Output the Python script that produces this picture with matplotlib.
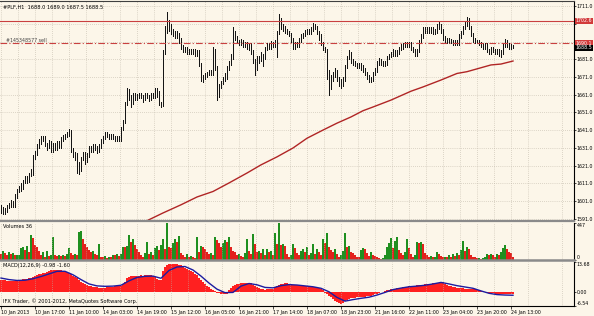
import matplotlib
matplotlib.use('Agg')
import matplotlib.pyplot as plt
import matplotlib.transforms as mtransforms

# hourly bars of #PLF, 10 Jan 2013 .. 24 Jan 2013
highs = [
    1599, 1598, 1597, 1599, 1600, 1601.5, 1601, 1605, 1608, 1609.5,
    1611, 1613, 1615.5, 1615, 1617, 1619, 1627, 1629.5, 1633, 1636,
    1637.5, 1638, 1638, 1634, 1635.5, 1635, 1634, 1634, 1635, 1635,
    1637, 1638.5, 1639, 1640, 1641.5, 1641, 1631, 1629, 1628, 1623,
    1626, 1629, 1629, 1628, 1632, 1632, 1633, 1633, 1632, 1633,
    1636, 1638, 1640, 1640, 1639, 1639, 1639, 1638, 1638, 1638,
    1643, 1647, 1657, 1665, 1664, 1661, 1662, 1662, 1661.5, 1662,
    1662, 1661, 1662, 1662, 1661, 1662, 1662, 1665, 1665, 1663,
    1657, 1686, 1700, 1707.5, 1703, 1701, 1698, 1697, 1697, 1696,
    1693, 1689, 1688, 1688, 1687, 1687, 1687, 1687, 1686, 1686,
    1679, 1672, 1673, 1674, 1675, 1675, 1688, 1687, 1677, 1667,
    1669, 1671, 1673, 1677, 1680, 1684, 1699, 1697, 1694, 1692,
    1692.5, 1692, 1691, 1691, 1690, 1690, 1686, 1681, 1683, 1683,
    1685, 1684, 1688, 1690, 1690, 1691.5, 1691, 1692, 1697, 1706.5,
    1704, 1701, 1700, 1698, 1697, 1696, 1693, 1691, 1691, 1693,
    1695, 1696, 1697.5, 1698, 1698, 1699, 1701.5, 1701, 1700, 1697,
    1695, 1691, 1688, 1687, 1675, 1672, 1674, 1676, 1675, 1671,
    1670, 1671, 1678, 1683, 1686, 1685, 1681, 1680, 1679, 1679,
    1679, 1678, 1676, 1674, 1672, 1671, 1674, 1676, 1680, 1681.5,
    1681, 1680, 1680, 1683, 1684, 1685, 1686.5, 1686, 1686, 1688,
    1689.5, 1690, 1691, 1691, 1691, 1691, 1688, 1687, 1687, 1692,
    1695, 1699, 1699, 1699, 1699, 1699, 1699, 1698, 1701, 1702,
    1701, 1698, 1694, 1693, 1693, 1692.5, 1692, 1692, 1692, 1695,
    1697, 1700, 1702, 1705, 1704, 1700, 1696, 1693, 1692, 1692,
    1691, 1690, 1690, 1690, 1687, 1688, 1688, 1687, 1687, 1687,
    1686, 1690, 1692.5, 1692, 1690, 1689.5, 1689.0]

lows = [
    1594.5, 1594, 1594, 1595, 1597, 1598, 1598, 1598, 1603, 1606,
    1607, 1608, 1611, 1611, 1612, 1615, 1616, 1625, 1627, 1631,
    1633, 1635, 1632, 1630, 1631, 1629, 1629, 1630, 1630, 1631,
    1631, 1635, 1636, 1637, 1638, 1629, 1626, 1624, 1617, 1616.5,
    1618, 1624, 1622, 1623, 1626, 1629, 1629, 1630, 1628, 1629,
    1631, 1634, 1636, 1637, 1636, 1636, 1636, 1635, 1635, 1635,
    1635, 1641, 1645, 1655, 1658, 1654, 1656, 1658, 1658, 1659,
    1659, 1657, 1658, 1659, 1657.5, 1658, 1659, 1659, 1660, 1655,
    1654, 1654.5, 1684, 1696, 1697, 1695, 1694, 1693, 1693, 1690,
    1687, 1685, 1685, 1684, 1684, 1684, 1684, 1683, 1683, 1677,
    1669, 1668, 1670, 1671, 1672, 1672, 1672, 1675, 1658, 1660,
    1665, 1667, 1669, 1670, 1675, 1678, 1681, 1692, 1690, 1689,
    1689, 1688, 1688, 1687, 1686, 1684, 1679, 1672, 1675, 1679,
    1680, 1677, 1681, 1686, 1687, 1687, 1688, 1688, 1682, 1695,
    1698, 1697, 1696, 1695, 1694, 1691, 1687, 1687, 1688, 1688,
    1691, 1693, 1694, 1695, 1695, 1695, 1697, 1698, 1695, 1692,
    1689, 1686, 1685, 1670, 1661, 1664, 1669, 1671, 1669, 1666,
    1665, 1666, 1669, 1676, 1681, 1679, 1678, 1677, 1676, 1676,
    1675, 1674, 1672, 1670, 1668, 1668, 1669, 1672, 1674, 1678,
    1678, 1677, 1677, 1678, 1681, 1682, 1683, 1683, 1683, 1684,
    1686, 1687, 1688, 1688, 1688, 1686, 1685, 1683, 1683, 1685,
    1690, 1693, 1696, 1696, 1696, 1696, 1695, 1695, 1696, 1698,
    1696, 1692, 1690, 1690, 1690, 1690, 1689, 1689, 1689, 1689,
    1693, 1695, 1698, 1700, 1698, 1694, 1691, 1690, 1690, 1689,
    1688, 1687, 1687, 1685, 1684, 1684, 1685, 1684, 1684, 1683,
    1682.5, 1684, 1688, 1688, 1687, 1687, 1687.5]

volumes = [
    70, 110, 80, 60, 90, 75, 85, 55, 60, 65,
    140, 150, 120, 170, 100, 300, 260, 180, 150, 110,
    60, 100, 40, 110, 45, 60, 280, 60, 45, 55,
    50, 60, 45, 70, 140, 80, 60, 70, 55, 330,
    340, 250, 190, 150, 120, 90, 110, 70, 60, 190,
    40, 30, 50, 25, 40, 35, 60, 55, 70, 50,
    70, 160, 150, 170, 300, 220, 250, 180, 130, 100,
    60, 40, 80, 210, 70, 90, 60, 140, 170, 120,
    180, 250, 130, 447, 160, 140, 200, 250, 210, 290,
    80, 60, 40, 70, 30, 45, 30, 25, 280, 90,
    170, 150, 130, 100, 70, 80, 60, 280, 240, 200,
    160, 200, 240, 220, 280, 160, 110, 90, 60, 70,
    50, 40, 80, 250, 110, 70, 310, 190, 90, 110,
    80, 130, 60, 130, 90, 110, 60, 320, 190, 440,
    180, 190, 170, 70, 40, 60, 190, 140, 80, 60,
    110, 130, 90, 150, 60, 80, 190, 70, 130, 90,
    60, 250, 200, 320, 150, 120, 90, 130, 70, 40,
    60, 110, 320, 150, 170, 100, 80, 60, 40, 30,
    120, 140, 130, 80, 50, 90, 60, 50, 30, 20,
    15, 25, 60, 150, 200, 260, 140, 230, 280, 120,
    80, 60, 90, 250, 140, 70, 40, 60, 210, 200,
    210, 190, 80, 60, 40, 50, 30, 40, 90, 70,
    50, 30, 40, 30, 60, 40, 70, 50, 80, 60,
    120, 230, 110, 160, 130, 60, 40, 30, 20, 25,
    15, 20, 40, 70, 60, 70, 60, 40, 70, 60,
    90, 140, 180, 130, 100, 80, 36]

macd_main = [
    5.6, 5.4, 5.2, 5.0, 4.9, 4.9, 5.0, 5.1, 5.2, 5.4,
    5.6, 5.7, 5.8, 5.9, 6.1, 6.3, 6.8, 7.4, 7.8, 8.0,
    8.2, 8.4, 8.6, 9.0, 9.4, 9.8, 10.0, 10.1, 10.2, 10.0,
    9.8, 9.6, 9.4, 9.2, 8.8, 8.1, 7.4, 6.8, 6.1, 5.4,
    4.7, 4.0, 3.4, 3.1, 2.8, 2.6, 2.4, 2.2, 2.0, 1.9,
    1.8, 1.8, 1.9, 2.0, 2.2, 2.3, 2.4, 2.5, 2.6, 2.7,
    2.8, 3.4, 4.5, 6.3, 7.0, 7.3, 7.2, 7.3, 7.4, 7.4,
    7.5, 7.4, 7.5, 7.6, 7.5, 7.5, 7.3, 7.0, 6.0, 5.6,
    5.5, 9.5, 11.5, 12.4, 12.6, 12.8, 12.8, 12.7, 12.6, 12.4,
    12.2, 11.8, 11.0, 10.5, 10.0, 9.5, 9.0, 8.3, 7.5, 6.5,
    5.5, 4.5, 3.5, 2.8, 2.0, 1.4, 0.8, 0.5, -0.4, -0.6,
    -0.9, -1.0, -1.2, -1.0, 0.8, 1.8, 2.5, 3.0, 3.4, 3.7,
    4.0, 4.1, 4.1, 4.1, 4.0, 3.8, 3.2, 2.6, 2.2, 1.8,
    1.5, 1.2, 1.0, 1.1, 1.3, 1.4, 1.5, 2.0, 2.8, 3.3,
    3.6, 3.7, 3.8, 3.8, 3.7, 3.5, 3.3, 3.1, 3.0, 2.9,
    2.8, 2.8, 2.7, 2.6, 2.5, 2.4, 2.3, 2.2, 2.0, 1.8,
    1.5, 1.0, -0.5, -1.2, -1.8, -2.6, -3.5, -4.2, -4.8, -5.2,
    -5.6, -5.2, -4.2, -3.7, -3.2, -3.0, -2.8, -2.7, -2.6, -2.5,
    -2.4, -2.3, -2.2, -2.1, -2.0, -1.8, -1.5, -1.2, -0.8, -0.5,
    -0.2, 0.0, 0.3, 0.6, 0.9, 1.1, 1.4, 1.5, 1.7, 1.8,
    1.9, 2.0, 2.2, 2.3, 2.5, 2.6, 2.7, 2.8, 2.9, 3.1,
    3.2, 3.3, 3.4, 3.5, 3.6, 3.7, 3.8, 3.9, 4.0, 4.2,
    4.5, 4.3, 3.6, 3.0, 2.7, 2.5, 2.3, 2.1, 1.8, 1.7,
    1.6, 1.6, 1.5, 1.4, 1.3, 1.3, 1.2, 1.1, 1.0, 0.7,
    0.3, 0.0, -0.2, -0.4, -0.6, -0.7, -0.7, -0.8, -0.8, -0.8,
    -0.9, -0.9, -0.9, -0.9, -1.0, -1.0, -0.98]

# signal line, read every 4th bar
signal_bar = list(range(0, 257, 4))
signal_val = [
    6.3, 5.6, 5.2, 5.3, 6.0, 7.0, 8.2, 9.4, 9.4, 7.8,
    5.6, 3.6, 2.7, 2.5, 2.6, 3.0, 5.0, 6.6, 7.1, 7.2,
    6.2, 9.8, 11.4, 11.6, 10.0, 7.2, 4.0, 1.2, -0.4, -0.3,
    2.6, 3.8, 3.2, 2.0, 1.8, 2.8, 3.3, 3.1, 2.7, 2.3,
    1.6, 0.0, -2.6, -4.3, -3.6, -3.0, -2.5, -1.5, -0.3, 1.0,
    1.7, 2.3, 2.6, 3.0, 3.6, 4.3, 3.6, 2.8, 2.2, 1.6,
    0.4, -0.7, -1.3, -1.5, -1.6]

# moving average (red line in price window)
ma_bar = [70, 72, 81, 90, 98, 106, 114, 123, 130, 138, 146, 153, 161,
          168, 175, 181, 186, 195, 200, 205, 211, 220, 228, 233, 245, 250, 256]
ma_val = [1588.5, 1589.5, 1594.4, 1599.0, 1603.4, 1606.5, 1611.3, 1616.9,
          1621.5, 1626.0, 1631.0, 1636.5, 1641.1, 1645.0, 1648.5, 1652.0,
          1654.1, 1658.0, 1660.5, 1663.0, 1665.4, 1669.3, 1673.0, 1674.0,
          1677.8, 1678.3, 1680.0]

tp_level = 1702.6
order_level = 1690.1
bid_level = 1688.5

date_labels = ["10 Jan 2013", "10 Jan 17:00", "11 Jan 10:00", "14 Jan 03:00",
               "14 Jan 19:00", "15 Jan 12:00", "16 Jan 05:00", "16 Jan 21:00",
               "17 Jan 14:00", "18 Jan 07:00", "18 Jan 23:00", "21 Jan 16:00",
               "22 Jan 11:00", "23 Jan 04:00", "23 Jan 20:00", "24 Jan 13:00"]
price_ticks = [1591, 1601, 1611, 1621, 1631, 1641, 1651, 1661, 1671, 1681, 1691, 1701, 1711]
price_labels = ["1591.0", "1601.0", "1611.0", "1621.0", "1631.0", "1641.0", "1651.0",
                "1661.0", "1671.0", "1681.0", "", "", "1711.0"]

plt.rcParams['font.family'] = ['Liberation Sans Narrow', 'DejaVu Sans']
BG = '#fcf6e9'
GRID = '#bdb5a6'
FS = 3.6
YFS = 3.4

W, H = 594.0, 316.0


def box(top, bottom, left=0.0, right=574.0):
    return [left / W, 1 - bottom / H, (right - left) / W, (bottom - top) / H]


fig = plt.figure(figsize=(5.94, 3.16), dpi=100)
fig.patch.set_facecolor(BG)
ax = fig.add_axes(box(1, 221))
axv = fig.add_axes(box(222.5, 260), sharex=ax)
axm = fig.add_axes(box(262, 306), sharex=ax)

bars = list(range(len(highs)))

for a in (ax, axv, axm):
    a.set_facecolor(BG)
    a.set_xlim(-0.5, 286.5)
    a.set_xticks([17 * k for k in range(len(date_labels))])
    a.set_xticks([8.5 + 17 * k for k in range(17)], minor=True)
    a.grid(True, which='both', axis='x', color=GRID, lw=0.5, ls=(0, (1, 2)))
    a.yaxis.tick_right()
    a.tick_params(axis='y', which='both', length=1.5, width=0.5, labelsize=YFS, pad=0.6)
    a.tick_params(axis='x', which='minor', length=0)
    for s in ('left', 'top', 'bottom'):
        a.spines[s].set_visible(False)
    a.spines['right'].set_color('black')
    a.spines['right'].set_linewidth(0.8)

# price window
ax.set_ylim(1589.87, 1713.82)
ax.set_yticks(price_ticks)
ax.set_yticklabels(price_labels)
ax.grid(True, axis='y', color=GRID, lw=0.5, ls=(0, (1, 2)))
ax.tick_params(axis='x', which='both', length=0, labelbottom=False)
ax.spines['top'].set_visible(True)
ax.spines['top'].set_color('#404040')
ax.spines['bottom'].set_visible(True)
ax.spines['bottom'].set_color('#8a8a8a')
ax.spines['bottom'].set_linewidth(1.6)
ax.vlines(bars, lows, highs, color='#151515', lw=0.7, antialiased=False)
ax.plot(ma_bar, ma_val, color='#b02525', lw=1.0)
ax.axhline(tp_level, color='#c94040', lw=0.8)
ax.axhline(order_level, color='#c94040', lw=0.8, ls=(0, (6, 2, 1, 2)))

trans = mtransforms.blended_transform_factory(ax.transAxes, ax.transData)
ax.text(1.003, tp_level, "1702.6", transform=trans, fontsize=YFS, color='white',
        va='center', ha='left', bbox=dict(boxstyle='square,pad=0.12', fc='#d23a3a', ec='none'))
ax.text(1.003, order_level, "1690.1", transform=trans, fontsize=YFS, color='white',
        va='center', ha='left', bbox=dict(boxstyle='square,pad=0.12', fc='#d23a3a', ec='none'))
ax.text(1.003, bid_level - 1.0, "1688.5", transform=trans, fontsize=YFS, color='white',
        va='center', ha='left', bbox=dict(boxstyle='square,pad=0.08', fc='black', ec='none'))
ax.text(0.01, order_level + 0.3, "#145348577 sell", transform=trans, fontsize=3.4,
        color='#404040', va='bottom', ha='left')
ax.text(0.005, 0.985, "#PLF,H1  1688.0 1689.0 1687.5 1688.5", transform=ax.transAxes,
        fontsize=FS, color='black', va='top', ha='left')

# volumes window
colors = ['#e3211c' if i == 0 or volumes[i] <= volumes[i - 1] else '#1f8f1f' for i in bars]
axv.bar(bars, volumes, width=0.7, color=colors, lw=0)
axv.set_ylim(0, 447)
axv.set_yticks([0, 447])
axv.set_yticklabels(["0", "447"])
lv = axv.get_yticklabels()
lv[0].set_va('bottom')
lv[1].set_va('top')
axv.tick_params(axis='x', which='both', length=0, labelbottom=False)
axv.spines['bottom'].set_visible(True)
axv.spines['bottom'].set_color('#8a8a8a')
axv.spines['bottom'].set_linewidth(1.8)
axv.text(0.005, 0.96, "Volumes 36", transform=axv.transAxes, fontsize=FS,
         color='black', va='top', ha='left')

# MACD window
axm.bar(bars, macd_main, width=0.7, color='#ff2020', lw=0)
axm.plot(signal_bar, signal_val, color='#1c1ca0', lw=1.0)
axm.set_ylim(-6.54, 13.68)
axm.set_yticks([-6.54, 0, 13.68])
axm.set_yticklabels(["-6.54", "0.00", "13.68"])
lm = axm.get_yticklabels()
lm[0].set_va('bottom')
lm[2].set_va('top')
axm.spines['bottom'].set_visible(True)
axm.spines['bottom'].set_color('black')
axm.spines['bottom'].set_linewidth(0.8)
axm.set_xticklabels(date_labels, fontsize=3.4, ha='left')
axm.tick_params(axis='x', which='major', length=2, width=0.5, pad=1)
axm.text(0.005, 0.97, "MACD(12,26,9) -0.98 -1.60", transform=axm.transAxes, fontsize=FS,
         color='black', va='top', ha='left')
axm.text(0.005, 0.04, "IFX Trader, \u00a9 2001-2012, MetaQuotes Software Corp.",
         transform=axm.transAxes, fontsize=FS, color='black', va='bottom', ha='left')

fig.savefig('out.png', dpi=100, facecolor=BG)
